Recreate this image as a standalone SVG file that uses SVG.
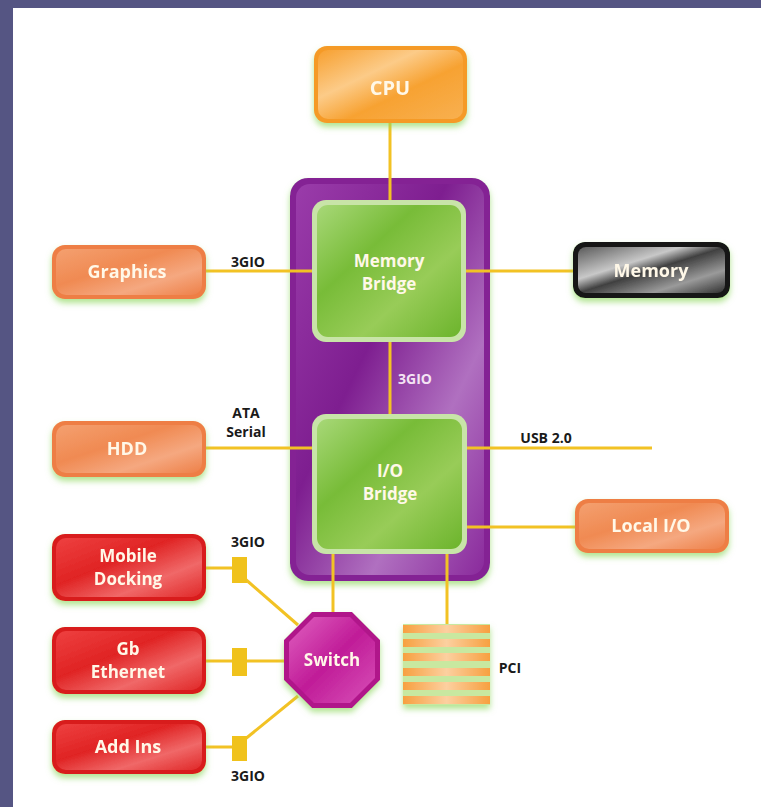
<svg xmlns="http://www.w3.org/2000/svg" width="761" height="807" viewBox="0 0 761 807">
<style>
.lbl{font-family:"Open Sans","Liberation Sans",sans-serif;font-weight:700;fill:#fff8e8;text-anchor:middle}
.cap{font-family:"Open Sans","Liberation Sans",sans-serif;font-weight:700;font-size:14px;fill:#1a1a1a;text-anchor:middle}
.ln{stroke:#F2C224;stroke-width:3;fill:none}
</style>
<defs>
<filter id="glow" x="-20%" y="-20%" width="140%" height="150%">
<feDropShadow dx="0" dy="4" stdDeviation="3" flood-color="#8fd860" flood-opacity="0.7"/>
</filter>
<linearGradient id="gOrange" x1="0" y1="0" x2="1" y2="1">
<stop offset="0" stop-color="#F7A030"/><stop offset="0.35" stop-color="#FCCB88"/><stop offset="0.6" stop-color="#F7A232"/><stop offset="1" stop-color="#F8B050"/>
</linearGradient>
<linearGradient id="gSalmon" x1="0" y1="0" x2="1" y2="1">
<stop offset="0" stop-color="#F4A070"/><stop offset="0.4" stop-color="#F08A52"/><stop offset="0.7" stop-color="#F5A880"/><stop offset="1" stop-color="#EE8048"/>
</linearGradient>
<linearGradient id="gRed" x1="0" y1="0" x2="1" y2="1">
<stop offset="0" stop-color="#EE4040"/><stop offset="0.4" stop-color="#E02424"/><stop offset="0.7" stop-color="#F06868"/><stop offset="1" stop-color="#E02828"/>
</linearGradient>
<linearGradient id="gGreen" x1="0" y1="0" x2="1" y2="1">
<stop offset="0" stop-color="#A8D878"/><stop offset="0.35" stop-color="#78BC38"/><stop offset="0.65" stop-color="#98CC58"/><stop offset="1" stop-color="#6CB42C"/>
</linearGradient>
<linearGradient id="gPurple" x1="0" y1="0" x2="1" y2="1">
<stop offset="0" stop-color="#9A3CAA"/><stop offset="0.4" stop-color="#7E1E90"/><stop offset="0.7" stop-color="#B070C0"/><stop offset="1" stop-color="#8A2A9C"/>
</linearGradient>
<linearGradient id="gDark" x1="0" y1="0" x2="1" y2="1">
<stop offset="0" stop-color="#5a5a5a"/><stop offset="0.35" stop-color="#c8c8c8"/><stop offset="0.5" stop-color="#404040"/><stop offset="0.75" stop-color="#9a9a9a"/><stop offset="1" stop-color="#303030"/>
</linearGradient>
<linearGradient id="gSwitch" x1="0" y1="0" x2="1" y2="1">
<stop offset="0" stop-color="#E060C0"/><stop offset="0.5" stop-color="#C01C98"/><stop offset="1" stop-color="#D850B8"/>
</linearGradient>
<linearGradient id="gPci" x1="0" y1="0" x2="1" y2="0">
<stop offset="0" stop-color="#F7A040"/><stop offset="0.5" stop-color="#FCD0A0"/><stop offset="1" stop-color="#F7A040"/>
</linearGradient>
</defs>

<rect x="0" y="0" width="761" height="807" fill="#555583"/>
<rect x="13" y="8" width="748" height="799" fill="#ffffff"/>

<g id="container">
<rect x="290" y="178" width="200" height="403" rx="18" fill="#842494" filter="url(#glow)"/>
<rect x="296" y="184" width="188" height="391" rx="14" fill="url(#gPurple)"/>
</g>

<g id="connectors">
<line class="ln" x1="390" y1="122" x2="390" y2="200"/>
<line class="ln" x1="205" y1="271" x2="312" y2="271"/>
<line class="ln" x1="466" y1="271" x2="574" y2="271"/>
<line class="ln" x1="390" y1="342" x2="390" y2="414"/>
<line class="ln" x1="205" y1="448" x2="312" y2="448"/>
<line class="ln" x1="467" y1="448" x2="652" y2="448"/>
<line class="ln" x1="467" y1="527" x2="575" y2="527"/>
<line class="ln" x1="333" y1="553" x2="333" y2="612"/>
<line class="ln" x1="447" y1="553" x2="447" y2="625"/>
<line class="ln" x1="205" y1="568" x2="240" y2="568"/>
<line class="ln" x1="244" y1="578" x2="298" y2="625"/>
<line class="ln" x1="205" y1="661" x2="284" y2="661"/>
<line class="ln" x1="205" y1="747" x2="240" y2="747"/>
<line class="ln" x1="244" y1="740" x2="298" y2="696"/>
<rect x="232" y="557" width="15" height="26" fill="#F0C21C"/>
<rect x="232" y="648" width="15" height="28" fill="#F0C21C"/>
<rect x="232" y="736" width="15" height="25" fill="#F0C21C"/>
<text class="cap" x="248" y="267">3GIO</text>
<text class="cap" x="415" y="384" style="fill:#f4e4f4">3GIO</text>
<text class="cap" x="246" y="418">ATA</text>
<text class="cap" x="246" y="437">Serial</text>
<text class="cap" x="546" y="443">USB 2.0</text>
<text class="cap" x="248" y="547">3GIO</text>
<text class="cap" x="248" y="781">3GIO</text>
<text class="cap" x="510" y="673">PCI</text>
</g>

<g id="cpu" filter="url(#glow)">
<rect x="314" y="46" width="153" height="77" rx="13" fill="#F59A28"/>
<rect x="318" y="50" width="145" height="69" rx="10" fill="url(#gOrange)"/>
<text class="lbl" x="390" y="95" font-size="20">CPU</text>
</g>

<g id="memory-bridge">
<rect x="312" y="200" width="154" height="142" rx="14" fill="#C8E4A8"/>
<rect x="317" y="205" width="144" height="132" rx="11" fill="url(#gGreen)"/>
<text class="lbl" x="389" y="267" font-size="17">Memory</text>
<text class="lbl" x="389" y="290" font-size="17">Bridge</text>
</g>

<g id="io-bridge">
<rect x="312" y="414" width="155" height="140" rx="14" fill="#C8E4A8"/>
<rect x="317" y="419" width="145" height="130" rx="11" fill="url(#gGreen)"/>
<text class="lbl" x="390" y="477" font-size="17">I/O</text>
<text class="lbl" x="390" y="500" font-size="17">Bridge</text>
</g>

<g id="graphics" filter="url(#glow)">
<rect x="52" y="245" width="154" height="54" rx="13" fill="#EE7E44"/>
<rect x="56" y="249" width="146" height="46" rx="10" fill="url(#gSalmon)"/>
<text class="lbl" x="127" y="278" font-size="18">Graphics</text>
</g>

<g id="memory" filter="url(#glow)">
<rect x="573" y="242" width="157" height="56" rx="12" fill="#141414"/>
<rect x="578" y="247" width="147" height="46" rx="8" fill="url(#gDark)"/>
<text class="lbl" x="651" y="277" font-size="18">Memory</text>
</g>

<g id="hdd" filter="url(#glow)">
<rect x="52" y="421" width="154" height="56" rx="13" fill="#EE7E44"/>
<rect x="56" y="425" width="146" height="48" rx="10" fill="url(#gSalmon)"/>
<text class="lbl" x="127" y="455" font-size="18">HDD</text>
</g>

<g id="local-io" filter="url(#glow)">
<rect x="575" y="499" width="154" height="54" rx="13" fill="#EE7E44"/>
<rect x="579" y="503" width="146" height="46" rx="10" fill="url(#gSalmon)"/>
<text class="lbl" x="651" y="532" font-size="18">Local I/O</text>
</g>

<g id="mobile-docking" filter="url(#glow)">
<rect x="52" y="534" width="154" height="67" rx="13" fill="#D81C1C"/>
<rect x="56" y="538" width="146" height="59" rx="10" fill="url(#gRed)"/>
<text class="lbl" x="128" y="562" font-size="17">Mobile</text>
<text class="lbl" x="128" y="585" font-size="17">Docking</text>
</g>

<g id="gb-ethernet" filter="url(#glow)">
<rect x="52" y="627" width="154" height="67" rx="13" fill="#D81C1C"/>
<rect x="56" y="631" width="146" height="59" rx="10" fill="url(#gRed)"/>
<text class="lbl" x="128" y="655" font-size="17">Gb</text>
<text class="lbl" x="128" y="678" font-size="17">Ethernet</text>
</g>

<g id="add-ins" filter="url(#glow)">
<rect x="52" y="720" width="154" height="54" rx="13" fill="#D81C1C"/>
<rect x="56" y="724" width="146" height="46" rx="10" fill="url(#gRed)"/>
<text class="lbl" x="128" y="753" font-size="18">Add Ins</text>
</g>

<g id="switch" filter="url(#glow)">
<polygon points="312,612 352,612 380,640 380,680 352,708 312,708 284,680 284,640" fill="#B0148A"/>
<polygon points="314,617 350,617 375,642 375,678 350,703 314,703 289,678 289,642" fill="url(#gSwitch)"/>
<text class="lbl" x="332" y="666" font-size="17">Switch</text>
</g>

<g id="pci" filter="url(#glow)">
<rect x="403" y="624" width="87" height="81" fill="#c8e8a0"/>
<rect x="403" y="625" width="87" height="8" fill="url(#gPci)"/>
<rect x="403" y="639" width="87" height="8" fill="url(#gPci)"/>
<rect x="403" y="653" width="87" height="8" fill="url(#gPci)"/>
<rect x="403" y="668" width="87" height="8" fill="url(#gPci)"/>
<rect x="403" y="682" width="87" height="8" fill="url(#gPci)"/>
<rect x="403" y="696" width="87" height="8" fill="url(#gPci)"/>
</g>
</svg>
